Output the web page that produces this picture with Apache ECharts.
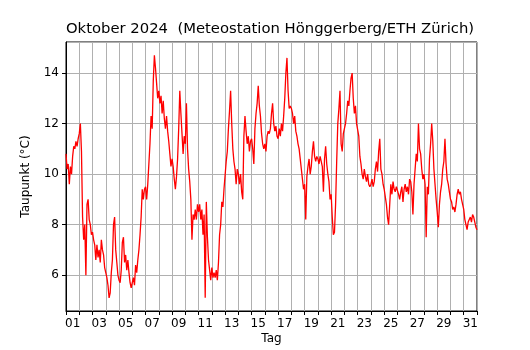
<!DOCTYPE html>
<html>
<head>
<meta charset="utf-8">
<script src="https://cdn.jsdelivr.net/npm/echarts@6/dist/echarts.min.js"></script>
<style>
  html, body { margin: 0; padding: 0; background: #fff; }
  #chart { width: 530px; height: 350px; }
</style>
</head>
<body>
<div id="chart"></div>
<script>
// Taupunkt, Oktober 2024, alle 2 Stunden
var stepHours = 2;
var dewPoint = [
  10.8, 10.2, 10.4, 9.6, 10.3, 10.0, 10.7, 11.1, 11.0, 11.3, 11.1, 11.4, // 01
  11.6, 12.0, 10.9, 8.3, 7.4, 8.0, 6.0, 8.8, 9.0, 8.2, 8.0, 7.6,         // 02
  7.7, 7.4, 7.2, 6.6, 7.2, 6.7, 7.0, 6.5, 7.4, 7.0, 6.8, 6.3,            // 03
  6.1, 5.9, 5.6, 5.1, 5.3, 6.1, 6.6, 8.0, 8.3, 7.0, 6.5, 6.0,            // 04
  5.8, 5.7, 6.2, 7.3, 7.5, 6.5, 6.8, 6.2, 6.6, 6.1, 5.7, 5.5,            // 05
  5.7, 5.9, 5.6, 6.4, 6.1, 6.6, 7.0, 7.6, 8.3, 9.4, 9.0, 9.4,            // 06
  9.5, 9.0, 9.6, 10.4, 11.2, 12.3, 11.8, 13.7, 14.7, 14.2, 13.6, 13.0,   // 07
  13.3, 12.8, 13.1, 12.4, 12.9, 12.2, 11.8, 12.3, 11.7, 11.3, 10.8, 10.3, // 08
  10.6, 10.3, 9.8, 9.4, 9.9, 10.6, 11.8, 13.3, 12.4, 11.6, 10.8, 11.5,   // 09
  11.2, 12.8, 11.0, 10.2, 9.7, 9.0, 7.4, 8.4, 8.2, 8.6, 8.2, 8.8,        // 10
  8.5, 8.8, 8.2, 8.6, 7.6, 8.4, 5.1, 8.9, 7.5, 6.6, 6.2, 5.8,            // 11
  6.3, 5.9, 6.1, 5.9, 6.2, 5.8, 6.5, 7.6, 8.0, 8.9, 8.7, 9.4,            // 12
  9.4, 10.5, 10.9, 11.8, 12.5, 13.3, 12.0, 11.0, 10.5, 10.2, 9.6, 10.2,  // 13
  10.0, 9.6, 10.0, 9.3, 9.0, 11.5, 12.3, 11.7, 11.2, 11.5, 10.9, 11.3,   // 14
  11.4, 11.0, 10.4, 11.8, 12.4, 12.8, 13.5, 12.7, 12.3, 11.6, 11.2, 11.0, // 15
  11.2, 10.9, 11.5, 11.7, 11.6, 11.8, 12.4, 12.8, 12.0, 11.7, 11.9, 11.5, // 16
  11.4, 11.8, 11.5, 12.0, 11.7, 12.3, 13.0, 14.0, 14.6, 13.3, 12.6, 12.7, // 17
  12.6, 12.4, 12.0, 12.3, 11.7, 11.5, 11.2, 11.0, 10.6, 10.2, 9.8, 9.4,  // 18
  9.6, 8.2, 9.9, 10.3, 10.6, 10.0, 10.3, 10.9, 11.3, 10.7, 10.5, 10.7,   // 19
  10.6, 10.4, 10.7, 10.5, 10.3, 9.3, 10.6, 11.1, 10.4, 10.0, 9.7, 9.0,   // 20
  9.2, 8.3, 7.6, 7.7, 8.8, 10.5, 12.0, 12.6, 13.3, 11.2, 10.9, 11.6,     // 21
  11.8, 12.0, 12.4, 12.9, 12.7, 13.3, 13.8, 14.0, 13.0, 12.4, 12.7, 12.0, // 22
  12.0, 11.5, 10.7, 10.4, 10.0, 9.8, 10.2, 9.9, 9.7, 10.0, 9.6, 9.5,     // 23
  9.6, 9.8, 9.5, 9.7, 10.2, 10.5, 10.1, 10.9, 11.4, 10.2, 10.0, 9.6,     // 24
  9.4, 9.1, 8.8, 8.3, 8.0, 8.8, 9.6, 9.2, 9.7, 9.4, 9.3, 9.5,            // 25
  9.5, 9.2, 9.0, 9.3, 9.5, 8.9, 9.4, 9.6, 9.3, 9.5, 9.2, 9.8,            // 26
  9.7, 9.3, 8.4, 9.6, 10.2, 10.8, 10.5, 12.0, 11.0, 10.8, 10.2, 9.8,     // 27
  10.0, 9.6, 7.5, 9.5, 9.2, 10.6, 11.2, 12.0, 11.3, 10.2, 9.6, 9.0,      // 28
  8.5, 7.9, 8.8, 9.3, 9.6, 10.2, 10.5, 11.4, 10.4, 9.8, 9.6, 9.3,        // 29
  9.0, 8.9, 8.6, 8.7, 8.5, 8.8, 9.2, 9.4, 9.2, 9.3, 9.0, 8.8,            // 30
  8.6, 8.2, 8.0, 7.8, 8.1, 8.2, 8.3, 8.1, 8.4, 8.3, 8.1, 7.9,            // 31
  7.8
];
var dayCount = 31;
var yMin = 4.58;
var yMax = 15.23;

var chartDom = document.getElementById("chart");
var myChart = echarts.init(chartDom, null, { renderer: "canvas" });

var fontFamily = "DejaVu Sans";

function pad(n) {
  return n < 10 ? "0" + n : "" + n;
}

var option = {
  animation: false,
  backgroundColor: "#fff",
  graphic: [
    {
      type: "text",
      x: 270,
      y: 29,
      style: {
        text: "Oktober 2024  (Meteostation Hönggerberg/ETH Zürich)",
        textAlign: "center",
        textVerticalAlign: "middle",
        font: "14.8px DejaVu Sans",
        fill: "#000",
      },
    },
  ],
  grid: {
    left: 66,
    right: 53,
    top: 42,
    bottom: 38,
    show: true,
    borderColor: "#000",
    borderWidth: 1,
    backgroundColor: "transparent",
  },
  xAxis: [
    {
      // Tagesgrenzen: Gitter + Ticks
      type: "value",
      min: 0,
      max: dayCount,
      interval: 1,
      axisLine: { show: true, lineStyle: { color: "#000", width: 1 } },
      axisTick: { show: true, length: 4, lineStyle: { color: "#000" } },
      axisLabel: { show: false },
      splitLine: { show: true, lineStyle: { color: "#b0b0b0", width: 1 } },
      name: "Tag",
      nameLocation: "middle",
      nameGap: 22,
      nameTextStyle: { fontFamily: fontFamily, fontSize: 12, color: "#000" },
    },
    {
      // Beschriftung jeweils Tagesmitte der ungeraden Tage
      type: "value",
      position: "bottom",
      min: 0,
      max: dayCount,
      interval: 0.5,
      axisLine: { show: false },
      axisTick: { show: false },
      splitLine: { show: false },
      axisLabel: {
        margin: 7,
        fontFamily: fontFamily,
        fontSize: 12,
        color: "#000",
        formatter: function (v) {
          return v % 2 === 0.5 ? pad(v + 0.5) : "";
        },
      },
    },
  ],
  yAxis: {
    type: "value",
    min: yMin,
    max: yMax,
    minInterval: 2,
    maxInterval: 2,
    axisLine: { show: true, lineStyle: { color: "#000", width: 1 } },
    axisTick: { show: true, length: 4, lineStyle: { color: "#000" } },
    axisLabel: {
      margin: 7,
      showMinLabel: false,
      showMaxLabel: false,
      fontFamily: fontFamily,
      fontSize: 12,
      color: "#000",
      formatter: function (v) {
        return Math.abs(v - Math.round(v)) < 1e-6 ? String(Math.round(v)) : "";
      },
    },
    splitLine: { show: true, lineStyle: { color: "#b0b0b0", width: 1 } },
    name: "Taupunkt (°C)",
    nameLocation: "middle",
    nameRotate: 90,
    nameGap: 34,
    nameTextStyle: { fontFamily: fontFamily, fontSize: 12, color: "#000" },
  },
  series: [
    {
      type: "line",
      xAxisIndex: 0,
      showSymbol: false,
      symbol: "none",
      lineStyle: { color: "#ff0000", width: 1.3 },
      data: dewPoint.map(function (v, i) {
        return [(i * stepHours) / 24, v];
      }),
    },
  ],
};

myChart.setOption(option);
</script>
</body>
</html>
